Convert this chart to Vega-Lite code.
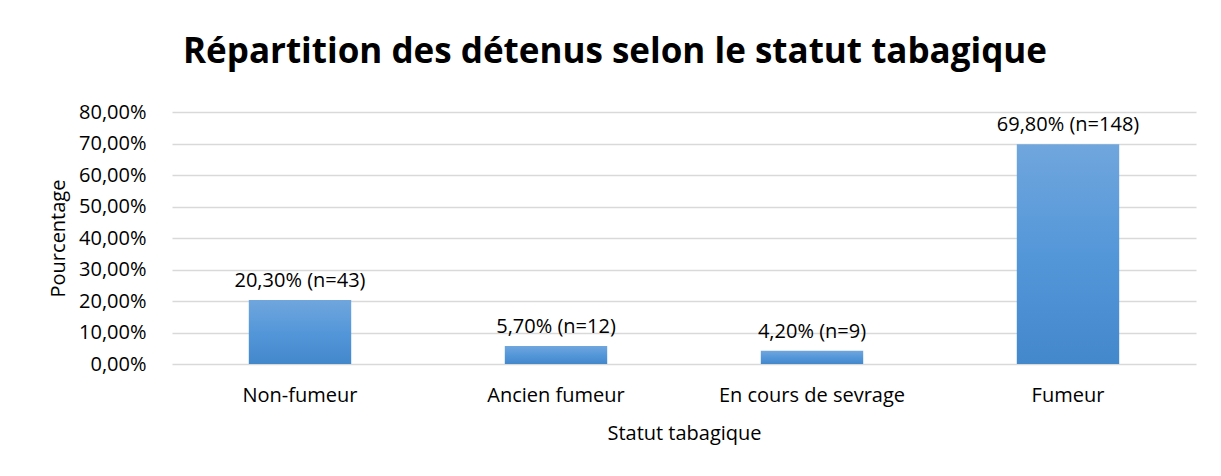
{
  "$schema": "https://vega.github.io/schema/vega-lite/v6.json",
  "width": 1024,
  "height": 252,
  "autosize": "none",
  "padding": {"left": 172, "top": 112, "right": 25, "bottom": 112},
  "background": "white",
  "title": {
    "text": "Répartition des détenus selon le statut tabagique",
    "font": "Open Sans",
    "fontSize": 35,
    "fontWeight": "bold",
    "color": "#000000",
    "anchor": "middle",
    "dx": -69,
    "offset": 32
  },
  "data": {
    "values": [
      {"statut": "Non-fumeur", "pct": 0.203, "label": "20,30% (n=43)"},
      {"statut": "Ancien fumeur", "pct": 0.057, "label": "5,70% (n=12)"},
      {"statut": "En cours de sevrage", "pct": 0.042, "label": "4,20% (n=9)"},
      {"statut": "Fumeur", "pct": 0.698, "label": "69,80% (n=148)"}
    ]
  },
  "encoding": {
    "x": {
      "field": "statut",
      "type": "nominal",
      "sort": null,
      "scale": {"paddingInner": 0.6, "paddingOuter": 0.3},
      "title": "Statut tabagique",
      "axis": {
        "labelAngle": 0,
        "labelLimit": 400,
        "labelFont": "Open Sans",
        "labelFontSize": 20,
        "labelColor": "#000000",
        "labelPadding": 21,
        "ticks": false,
        "domain": false,
        "titleFont": "Open Sans",
        "titleFontSize": 20,
        "titleFontWeight": "normal",
        "titleColor": "#000000",
        "titlePadding": 18
      }
    },
    "y": {
      "field": "pct",
      "type": "quantitative",
      "scale": {"domain": [0, 0.8]},
      "title": "Pourcentage",
      "axis": {
        "values": [0, 0.1, 0.2, 0.3, 0.4, 0.5, 0.6, 0.7, 0.8],
        "labelExpr": "replace(format(datum.value, '.2%'), '.', ',')",
        "labelFont": "Open Sans",
        "labelFontSize": 20,
        "labelColor": "#000000",
        "labelPadding": 26,
        "ticks": false,
        "domain": false,
        "grid": true,
        "gridColor": "#d9d9d9",
        "gridWidth": 1.5,
        "titleFont": "Open Sans",
        "titleFontSize": 20,
        "titleFontWeight": "normal",
        "titleColor": "#000000",
        "titlePadding": 10
      }
    }
  },
  "layer": [
    {
      "mark": {
        "type": "bar",
        "color": {
          "gradient": "linear",
          "x1": 0, "y1": 0, "x2": 0, "y2": 1,
          "stops": [
            {"offset": 0, "color": "#70a6dd"},
            {"offset": 0.5, "color": "#5497d9"},
            {"offset": 1, "color": "#4488cc"}
          ]
        }
      }
    },
    {
      "mark": {
        "type": "text",
        "baseline": "bottom",
        "dy": -9,
        "font": "Open Sans",
        "fontSize": 20,
        "color": "#000000"
      },
      "encoding": {"text": {"field": "label"}}
    }
  ],
  "config": {"view": {"stroke": null}}
}
